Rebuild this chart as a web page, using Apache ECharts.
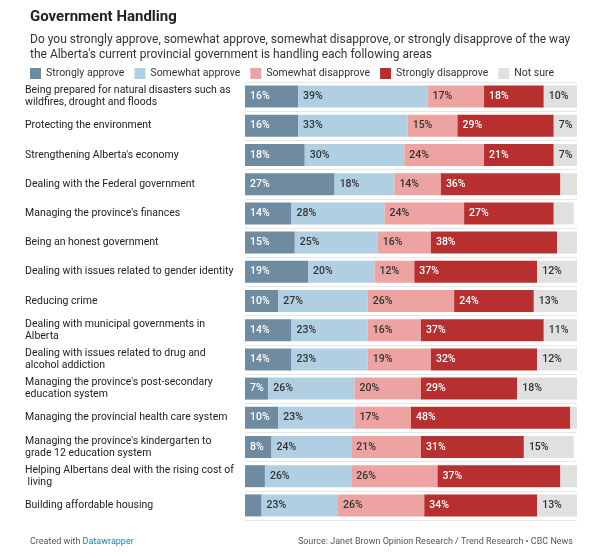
<!DOCTYPE html>
<html>
<head>
<meta charset="utf-8">
<script src="https://cdn.jsdelivr.net/npm/echarts@6/dist/echarts.min.js"></script>
<style>body{margin:0;background:#fff}#main{width:600px;height:558px}</style>
</head>
<body>
<div id="main"></div>
<script>
var categories = ['Being prepared for natural disasters such as wildfires, drought and floods','Protecting the environment',"Strengthening Alberta's economy",'Dealing with the Federal government',"Managing the province's finances",'Being an honest government','Dealing with issues related to gender identity','Reducing crime','Dealing with municipal governments in Alberta','Dealing with issues related to drug and alcohol addiction',"Managing the province's post-secondary education system",'Managing the provincial health care system',"Managing the province's kindergarten to grade 12 education system",'Helping Albertans deal with the rising cost of living','Building affordable housing'];
var seriesNames = ['Strongly approve','Somewhat approve','Somewhat disapprove','Strongly disapprove','Not sure'];
var stronglyApprove = [16,16,18,27,14,15,19,10,14,14,7,10,8,6,5];
var somewhatApprove = [39,33,30,18,28,25,20,27,23,23,26,23,24,26,23];
var somewhatDisapprove = [17,15,24,14,24,16,12,26,16,19,20,17,21,26,26];
var stronglyDisapprove = [18,29,21,36,27,38,37,24,37,32,29,48,31,37,34];
var notSure = [10,7,7,5,6,6,12,13,11,12,18,2,15,5,13];
var colors = ['#6f8ba1','#b0cfe3','#eca3a1','#b72f2f','#e0e0e0'];
var labelColors = ['#fff','#333','#333','#fff','#333'];
var values = [stronglyApprove, somewhatApprove, somewhatDisapprove, stronglyDisapprove, notSure];

var chart = echarts.init(document.getElementById('main'));
chart.setOption({
    textStyle: {fontFamily: 'Roboto'},
    title: [{
        text: 'Government Handling', left: 25, top: 5,
        textStyle: {fontSize: 15, fontWeight: 'bold', color: '#222'}
    }, {
        text: "Do you strongly approve, somewhat approve, somewhat disapprove, or strongly disapprove of the way the Alberta's current provincial government is handling each following areas",
        left: 25, top: 27,
        textStyle: {fontSize: 12, fontWeight: 'normal', color: '#333', width: 555, overflow: 'break', lineHeight: 15}
    }, {
        text: 'Created with {b|Datawrapper}', left: 25, top: 532,
        textStyle: {fontSize: 9, fontWeight: 'normal', color: '#555', rich: {b: {fontSize: 9, color: '#1d81a2'}}}
    }, {
        text: 'Source: Janet Brown Opinion Research / Trend Research • CBC News', right: 22, top: 532,
        textStyle: {fontSize: 9, fontWeight: 'normal', color: '#555'}
    }],
    legend: {
        left: 25, top: 63, itemWidth: 11, itemHeight: 11, itemGap: 10,
        icon: 'rect', textStyle: {fontSize: 10.5, color: '#333'},
        data: seriesNames
    },
    grid: {left: 245, right: 23, top: 82, bottom: 38},
    xAxis: {type: 'value', min: 0, max: 100, show: false},
    yAxis: {
        type: 'category', data: categories, inverse: true,
        axisLine: {show: false}, axisTick: {show: false},
        splitLine: {show: true, lineStyle: {color: '#e6e6e6'}},
        axisLabel: {
            align: 'left', margin: 220, width: 210, overflow: 'break',
            fontSize: 10.5, color: '#222', lineHeight: 12
        }
    },
    series: seriesNames.map(function (name, i) {
        return {
            name: name, type: 'bar', stack: 'all', barWidth: 22,
            data: values[i],
            itemStyle: {color: colors[i]},
            label: {
                show: true, position: 'insideLeft', offset: [0, 0],
                fontSize: 10.5, color: labelColors[i], fontWeight: 500,
                formatter: function (p) { return p.value >= 7 ? p.value + '%' : ''; }
            }
        };
    })
});
</script>
</body>
</html>
